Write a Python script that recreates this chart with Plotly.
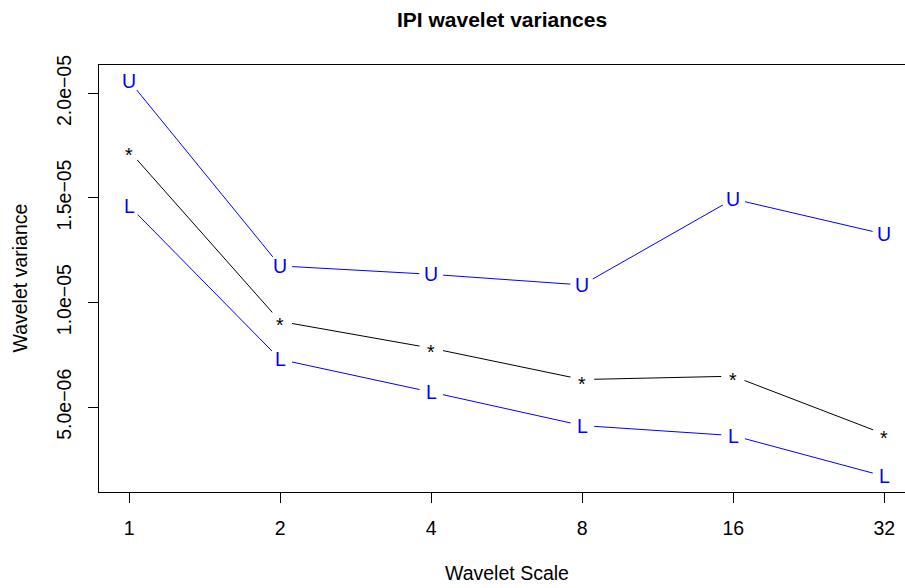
import math
import plotly.graph_objects as go

# Data
scales = [1, 2, 4, 8, 16, 32]
upper = [20.6e-6, 11.75e-6, 11.35e-6, 10.84e-6, 14.95e-6, 13.27e-6]
estimate = [17.25e-6, 9.10e-6, 7.82e-6, 6.32e-6, 6.48e-6, 3.71e-6]
lower = [14.62e-6, 7.28e-6, 5.72e-6, 4.12e-6, 3.64e-6, 1.70e-6]
ytick_vals = [5e-6, 1e-5, 1.5e-5, 2e-5]
ytick_text = ["5.0e\u221206", "1.0e\u221205", "1.5e\u221205", "2.0e\u221205"]

FONT = "Liberation Sans, Arial, Helvetica, sans-serif"
BLUE = "#0000FF"
FS = 19.5

fig = go.Figure()
annotations = []

def add_series(y, ch, color, yshift):
    fig.add_trace(go.Scatter(
        x=scales, y=y, mode="lines+markers",
        line=dict(color=color, width=1),
        marker=dict(size=24, color="white", line=dict(width=0)),
        showlegend=False, hoverinfo="skip", cliponaxis=False,
    ))
    for s, v in zip(scales, y):
        annotations.append(dict(
            x=math.log10(s), y=v, xref="x", yref="y", text=ch,
            showarrow=False, xanchor="center", yanchor="middle",
            yshift=yshift, font=dict(family=FONT, size=FS, color=color)))

add_series(upper, "U", BLUE, 0)
add_series(estimate, "*", "black", -4)
add_series(lower, "L", BLUE, 0)

# R-style axis ranges (4% padding)
ymin, ymax = min(lower), max(upper)
pad = 0.04 * (ymax - ymin)
lx0, lx1 = math.log2(min(scales)), math.log2(max(scales))
xpad = 0.04 * (lx1 - lx0)
x_right = 5.137  # figure cropped at right edge

annotations += [
    dict(text="Wavelet Scale", xref="paper", yref="paper", x=(507 - 99) / (905 - 99), y=0,
         xanchor="center", yanchor="middle", yshift=-81, showarrow=False,
         font=dict(family=FONT, size=FS, color="black")),
    dict(text="Wavelet variance", xref="paper", yref="paper", x=0, y=0.5,
         xanchor="center", yanchor="middle", xshift=-80, textangle=-90,
         showarrow=False, font=dict(family=FONT, size=FS, color="black")),
]

fig.update_layout(
    width=905, height=588,
    margin=dict(l=99, r=0, t=65, b=96),
    paper_bgcolor="white", plot_bgcolor="white",
    font=dict(family=FONT, size=FS, color="black"),
    title=dict(text="<b>IPI wavelet variances</b>", x=502 / 905, xanchor="center",
               xref="container",
               y=1 - 20 / 588, yanchor="middle", yref="container",
               font=dict(family=FONT, size=21, color="black")),
    xaxis=dict(
        type="log",
        range=[math.log10(2 ** (lx0 - xpad)), math.log10(2 ** x_right)],
        tickvals=scales, ticktext=[str(s) for s in scales],
        showgrid=False, zeroline=False,
        showline=True, linecolor="black", linewidth=1, mirror=True,
        ticks="outside", ticklen=10, tickcolor="black", tickwidth=1,
        ticklabelstandoff=9,
        tickfont=dict(family=FONT, size=FS, color="black"),
    ),
    yaxis=dict(
        range=[ymin - pad, ymax + pad],
        tickvals=ytick_vals, ticktext=ytick_text, tickangle=-90,
        showgrid=False, zeroline=False,
        showline=True, linecolor="black", linewidth=1, mirror=False,
        ticks="outside", ticklen=10, tickcolor="black", tickwidth=1,
        ticklabelstandoff=9,
        tickfont=dict(family=FONT, size=FS, color="black"),
    ),
    annotations=annotations,
)

fig.write_html("out.html")
